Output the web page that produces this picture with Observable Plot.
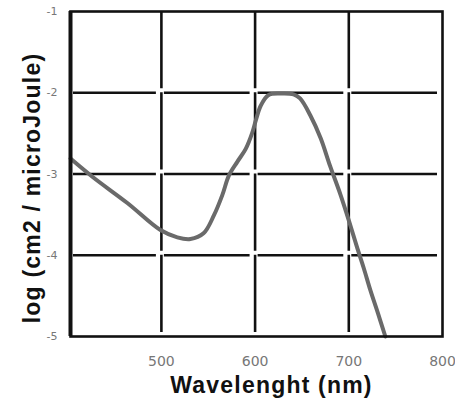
<!DOCTYPE html>
<html>
<head>
<meta charset="utf-8">
<script src="https://cdn.jsdelivr.net/npm/d3@7"></script>
<script src="https://cdn.jsdelivr.net/npm/@observablehq/plot@0.6"></script>
<style>
  html, body { margin: 0; padding: 0; background: #fff; }
</style>
</head>
<body>
<div id="chart"></div>
<script>
// Data
const wavelength = [403, 427, 464, 499, 517, 531, 545, 556, 565, 572, 581, 590, 597, 601, 606, 614, 627, 641, 648, 659, 670, 680, 691, 700, 709, 716, 723, 731, 739];
const logSensitivity = [-2.81, -3.04, -3.36, -3.69, -3.78, -3.80, -3.73, -3.51, -3.26, -3.02, -2.85, -2.69, -2.49, -2.33, -2.16, -2.03, -2.01, -2.02, -2.07, -2.28, -2.56, -2.90, -3.25, -3.57, -3.91, -4.16, -4.43, -4.71, -5.00];

const xDomain = [403, 800];
const yDomain = [-5, -1];
const xTicks = [500, 600, 700, 800];
const yTicks = [-1, -2, -3, -4, -5];
const xGrid = [500, 600, 700];
const yGrid = [-2, -3, -4];
const xLabel = "Wavelenght (nm)";
const yLabel = "log (cm2 / microJoule)";

const data = wavelength.map((x, i) => ({x, y: logSensitivity[i]}));

// grid drawn as segments between crossings (as in the reference)
const xEdges = [xDomain[0], ...xGrid, xDomain[1]];
const yEdges = [yDomain[1], ...yGrid, yDomain[0]];
const hSegs = yGrid.flatMap(y => d3.pairs(xEdges).map(([a, b]) => ({y, x1: a, x2: b})));
const vSegs = xGrid.flatMap(x => d3.pairs(yEdges).map(([a, b]) => ({x, y1: a, y2: b})));

const chart = Plot.plot({
  width: 455,
  height: 403,
  marginLeft: 70,
  marginRight: 13,
  marginTop: 11,
  marginBottom: 67,
  style: {fontFamily: "DejaVu Sans", background: "#fff"},
  x: {domain: xDomain},
  y: {domain: yDomain},
  marks: [
    Plot.ruleY(hSegs, {y: "y", x1: "x1", x2: "x2", stroke: "#111", strokeWidth: 2.6, insetLeft: 3, insetRight: 5}),
    Plot.ruleX(vSegs, {x: "x", y1: "y1", y2: "y2", stroke: "#111", strokeWidth: 2.6, insetBottom: 4}),
    Plot.line(data, {x: "x", y: "y", stroke: "#6a6a6a", strokeWidth: 4, curve: "catmull-rom"}),
    Plot.frame({stroke: "#111", strokeWidth: 2.6}),
    Plot.ruleX([xDomain[0]], {stroke: "#111", strokeWidth: 4}),
    Plot.axisX(xTicks, {tickSize: 0, tickPadding: 20, fontSize: 14, color: "#777", label: null, tickFormat: d => String(d)}),
    Plot.axisY(yTicks, {tickSize: 0, tickPadding: 13, fontSize: 11, color: "#777", label: null, tickFormat: d => String(d)}),
    Plot.text([xLabel], {frameAnchor: "bottom", textAnchor: "middle", lineAnchor: "middle", dx: 15, dy: 49, fontSize: 23, fontWeight: "bold", fontFamily: "Liberation Sans, Arial, sans-serif", fill: "#111", className: "biglabel"}),
    Plot.text([yLabel], {frameAnchor: "left", textAnchor: "middle", lineAnchor: "middle", rotate: -90, dx: -38, dy: 14, fontSize: 23, fontWeight: "bold", fontFamily: "Liberation Sans, Arial, sans-serif", fill: "#111", className: "biglabel"})
  ]
});
chart.querySelectorAll(".biglabel text").forEach(t => t.style.letterSpacing = "1.2px");
document.getElementById("chart").appendChild(chart);
</script>
</body>
</html>
